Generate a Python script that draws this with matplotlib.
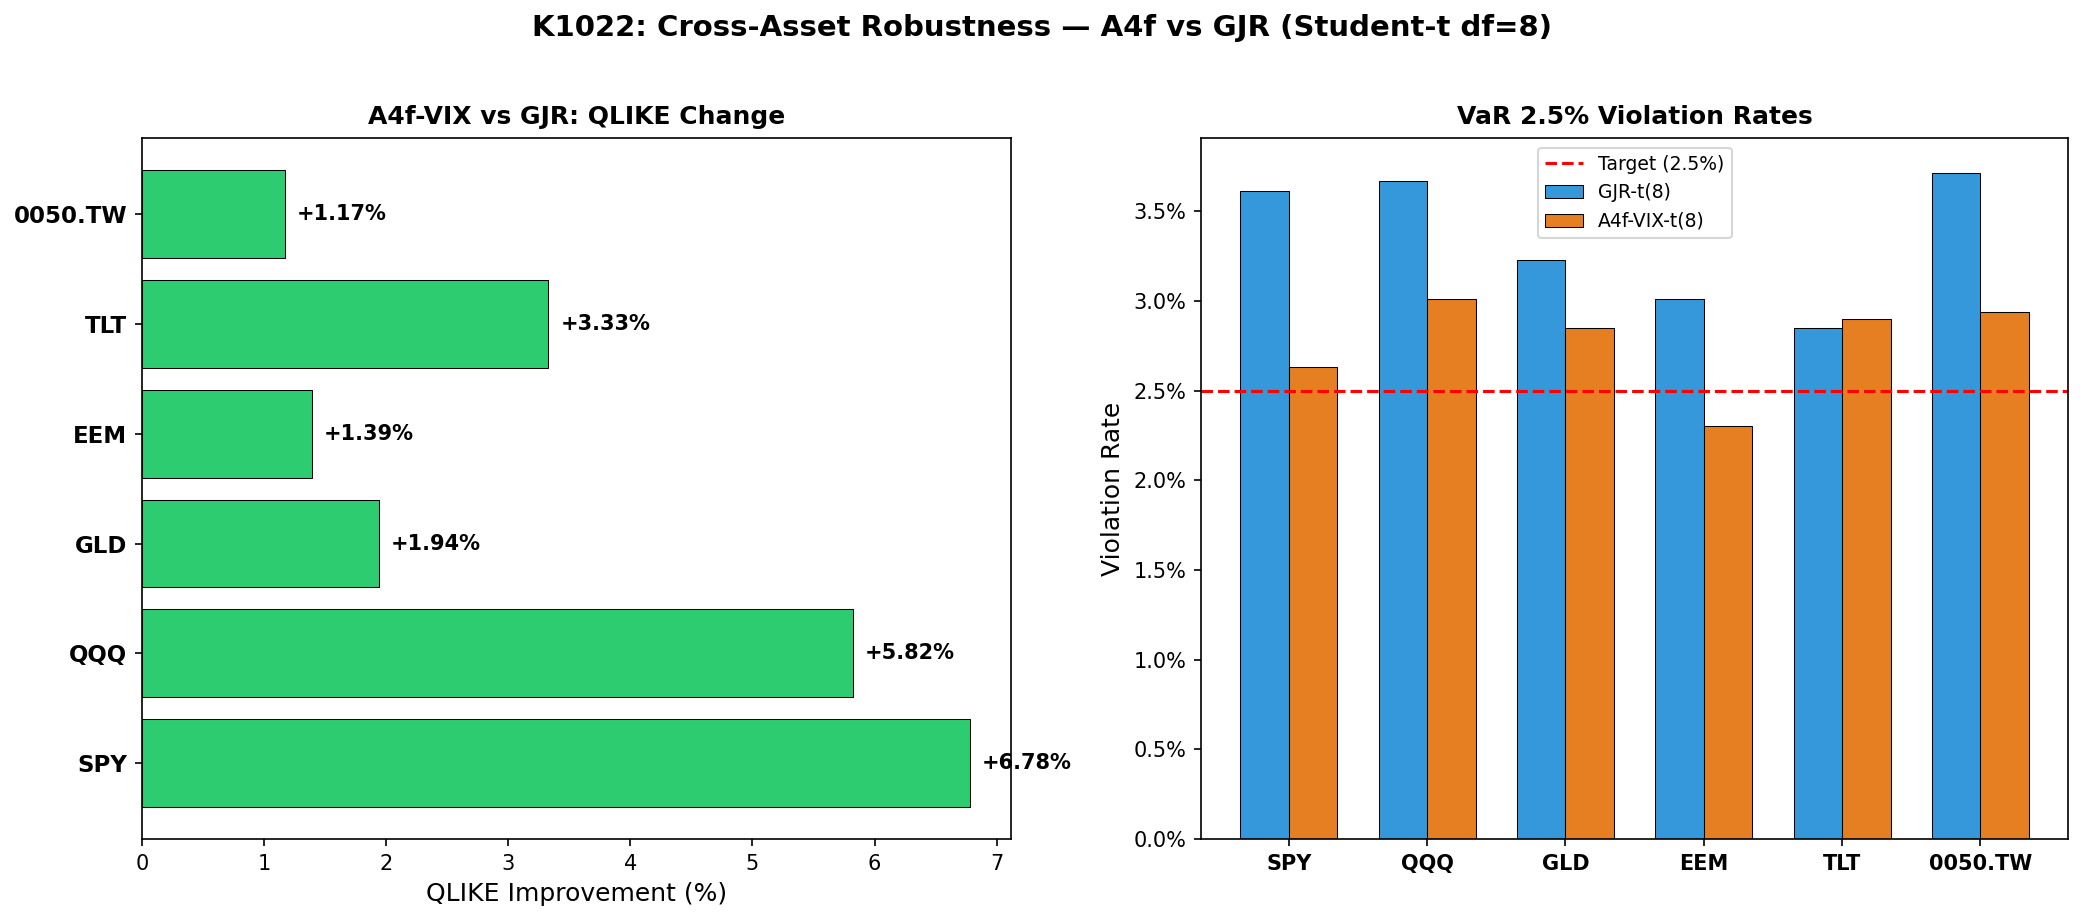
import matplotlib
matplotlib.use("Agg")
import matplotlib.pyplot as plt
import numpy as np
from matplotlib.ticker import PercentFormatter

# Data
ASSETS = ["SPY", "QQQ", "GLD", "EEM", "TLT", "0050.TW"]
QLIKE_CHANGE = [6.78, 5.82, 1.94, 1.39, 3.33, 1.17]
VIOL_GJR = [0.0361, 0.0367, 0.0323, 0.0301, 0.0285, 0.0371]
VIOL_A4F = [0.0263, 0.0301, 0.0285, 0.0230, 0.0290, 0.0294]
TARGET = 0.025


def main() -> None:
    fig = plt.figure(figsize=(2085 / 150, 921 / 150), dpi=150)
    ax1 = fig.add_axes([0.068, 0.089, 0.417, 0.761])
    ax2 = fig.add_axes([0.576, 0.089, 0.416, 0.761])

    # Left: QLIKE change
    y = np.arange(len(ASSETS))
    ax1.barh(y, QLIKE_CHANGE, color="#2ecc71", edgecolor="black", linewidth=0.5)
    for yi, v in zip(y, QLIKE_CHANGE):
        ax1.text(v + 0.1, yi, f"+{v:.2f}%", va="center", ha="left",
                 fontsize=10, fontweight="bold")
    ax1.set_yticks(y)
    ax1.set_yticklabels(ASSETS, fontsize=11, fontweight="bold")
    ax1.set_xlabel("QLIKE Improvement (%)", fontsize=12)
    ax1.set_title("A4f-VIX vs GJR: QLIKE Change", fontsize=12, fontweight="bold",
                  pad=7)

    # Right: VaR violation rates
    x = np.arange(len(ASSETS))
    w = 0.35
    ax2.bar(x - w / 2, VIOL_GJR, w, color="#3498db", edgecolor="black",
            linewidth=0.5, label="GJR-t(8)")
    ax2.bar(x + w / 2, VIOL_A4F, w, color="#e67e22", edgecolor="black",
            linewidth=0.5, label="A4f-VIX-t(8)")
    ax2.axhline(TARGET, color="red", linestyle="--", linewidth=1.5,
                label="Target (2.5%)")
    ax2.set_xticks(x)
    ax2.set_xticklabels(ASSETS, fontweight="bold")
    ax2.set_ylim(0, max(VIOL_GJR + VIOL_A4F) * 1.053)
    ax2.yaxis.set_major_formatter(PercentFormatter(xmax=1, decimals=1))
    ax2.set_ylabel("Violation Rate", fontsize=12)
    ax2.set_title("VaR 2.5% Violation Rates", fontsize=12, fontweight="bold",
                  pad=7)
    ax2.legend(loc="upper center", fontsize=9)

    fig.suptitle("K1022: Cross-Asset Robustness — A4f vs GJR (Student-t df=8)",
                 fontsize=14, fontweight="bold", y=0.985)
    fig.savefig("out.png", dpi=150)


if __name__ == "__main__":
    main()
